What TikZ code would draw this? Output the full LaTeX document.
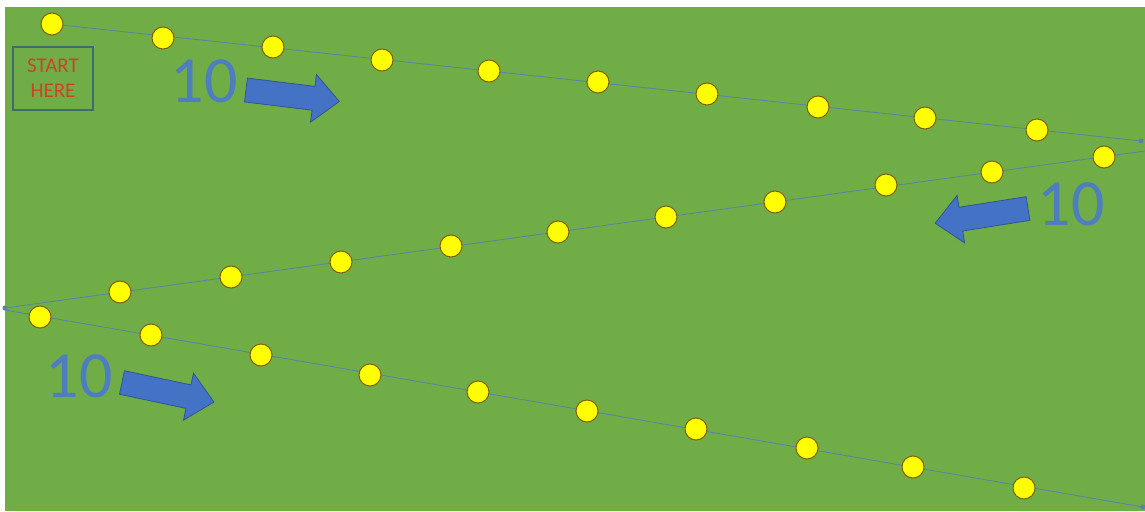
\documentclass[tikz,border=0pt]{standalone}
\usepackage{fontspec}
\setmainfont{Carlito}
\definecolor{grassgreen}{HTML}{70AD47}
\definecolor{pathblue}{HTML}{5584A8}
\definecolor{dotyellow}{HTML}{FFFF00}
\definecolor{dotedge}{HTML}{7F6000}
\definecolor{arrowfill}{HTML}{4472C4}
\definecolor{arrowedge}{HTML}{2F5597}
\definecolor{numblue}{HTML}{4E7DC0}
\definecolor{startred}{HTML}{C9471F}
\definecolor{startedge}{HTML}{3D6F6A}
\tikzset{
  cone/.style={circle, minimum size=22pt, inner sep=0pt, fill=dotyellow, draw=dotedge, line width=1pt},
  pathline/.style={draw=pathblue, line width=0.8pt},
  endmark/.style={circle, fill=pathblue, minimum size=5pt, inner sep=0pt},
  countlabel/.style={inner sep=0pt, text=numblue, font=\fontsize{66}{70}\selectfont},
  blockarrow/.style={fill=arrowfill, draw=arrowedge, line width=0.8pt, line join=miter},
  startbox/.style={draw=startedge, line width=1.2pt, text=startred, align=center, inner sep=0pt,
    minimum width=80pt, minimum height=63pt, font=\fontsize{21}{25}\selectfont}
}
\newcommand{\arrowshape}{(0,-12) -- (68,-12) -- (68,-24) -- (94,0) -- (68,24) -- (68,12) -- (0,12) -- cycle}
\begin{document}
\begin{tikzpicture}[x=1pt, y=-1pt]
\useasboundingbox (0,0) rectangle (1145,511);
\fill[white] (0,0) rectangle (1145,511);
\fill[grassgreen] (5,7) rectangle (1145,511);

% path end points
\coordinate (r1s) at (52,24);
\coordinate (r1e) at (1141,141);
\coordinate (r2s) at (1145,151);
\coordinate (r2e) at (5,308);
\coordinate (r3s) at (5,310);
\coordinate (r3e) at (1143,507);

\draw[pathline] (r1s) -- (r1e);
\draw[pathline] (r2s) -- (r2e);
\draw[pathline] (r3s) -- (r3e);
\node[endmark] (m1) at (r1e) {};
\node[endmark] (m2) at (r2e) {};
\node[endmark] (m3) at (r3e) {};

% row 1
\foreach \x/\y [count=\i] in {52/24,163/38,273/47,382/60,489/71,598/82,707/94,818/107,925/118,1037/130}
  \node[cone] (a\i) at (\x,\y) {};
% row 2
\foreach \x/\y [count=\i] in {1104/157,992/172,886/185,775/202,666/217,558/232,451/246,341/262,231/277,120/292}
  \node[cone] (b\i) at (\x,\y) {};
% row 3
\foreach \x/\y [count=\i] in {40/317,151/335,261/355,370/375,478/392,587/411,696/429,807/448,913/467,1024/488}
  \node[cone] (c\i) at (\x,\y) {};

% start box
\node[startbox] (start) at (53,78.5) {START\\HERE};

% counts
\node[countlabel] (n1) at (204,81) {10};
\node[countlabel] (n2) at (1071,204.5) {10};
\node[countlabel] (n3) at (79,376.5) {10};

% arrows
\begin{scope}[shift={(246,90)}, rotate=-7]
  \draw[blockarrow] \arrowshape;
\end{scope}
\begin{scope}[shift={(1028,208.5)}, rotate=189]
  \draw[blockarrow] \arrowshape;
\end{scope}
\begin{scope}[shift={(122,382.5)}, rotate=-12]
  \draw[blockarrow] \arrowshape;
\end{scope}
\end{tikzpicture}
\end{document}
